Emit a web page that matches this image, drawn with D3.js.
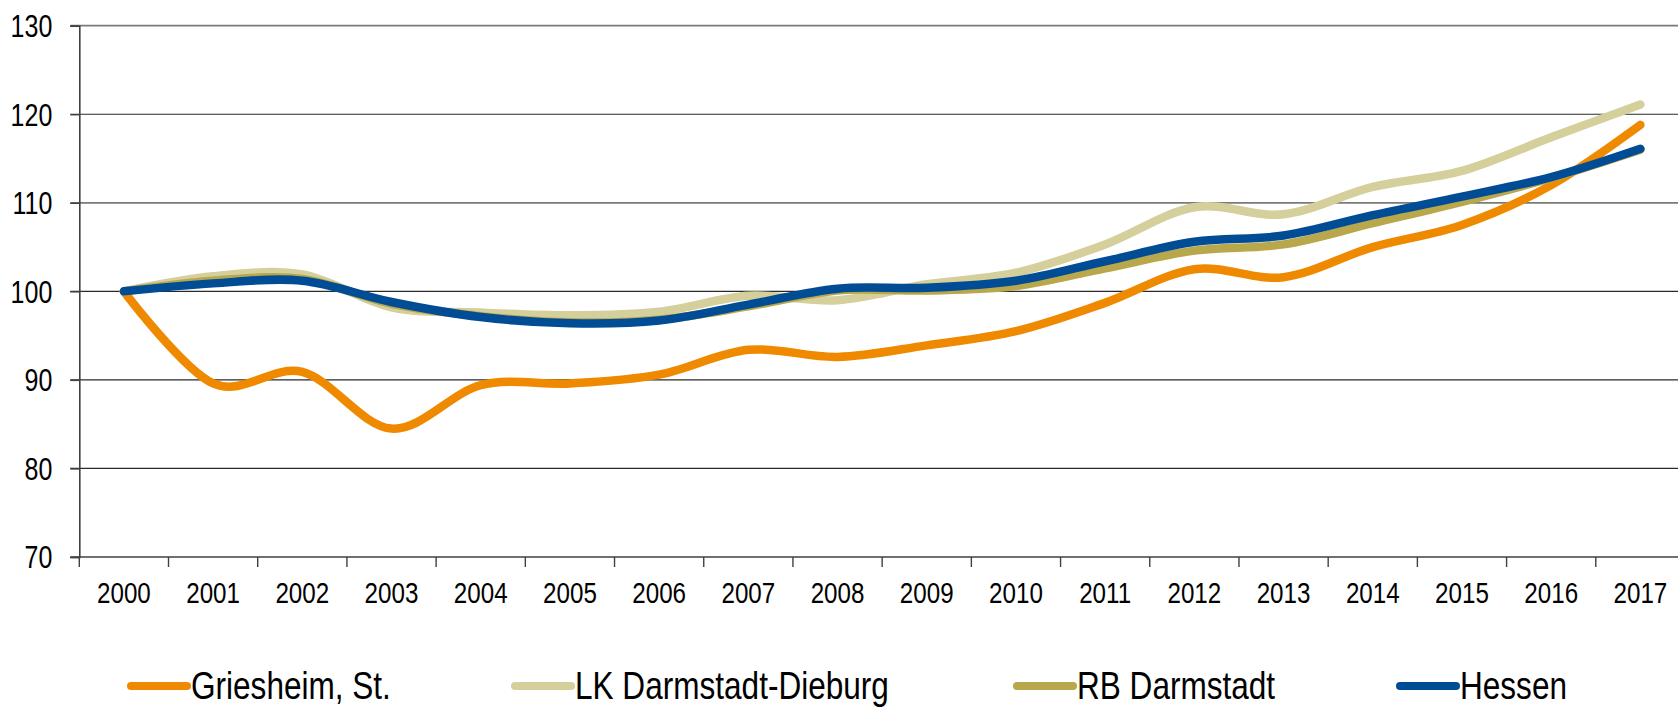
<!DOCTYPE html>
<html>
<head>
<meta charset="utf-8">
<script src="https://cdn.jsdelivr.net/npm/d3@7"></script>
<style>
  html, body { margin: 0; padding: 0; background: #fff; }
  svg { display: block; }
  text { font-family: "Liberation Sans Narrow", "Arial Narrow", "Liberation Sans", Arial, sans-serif; fill: #000; }
</style>
</head>
<body>
<svg id="chart" width="1678" height="710"></svg>
<script>
const years = ["2000","2001","2002","2003","2004","2005","2006","2007","2008","2009","2010","2011","2012","2013","2014","2015","2016","2017"];
const yTicks = [70, 80, 90, 100, 110, 120, 130];

const griesheim = [100, 89.6, 90.9, 84.5, 89.4, 89.6, 90.6, 93.4, 92.6, 93.9, 95.5, 98.7, 102.5, 101.6, 105.0, 107.5, 112.0, 118.8];
const lkDarmstadt = [100, 101.7, 101.9, 98.2, 97.6, 97.3, 97.7, 99.5, 99.0, 100.8, 102.1, 105.3, 109.5, 108.7, 111.8, 113.6, 117.4, 121.1];
const rbDarmstadt = [100, 101.2, 101.4, 98.6, 97.2, 96.5, 96.8, 98.3, 100.1, 100.1, 100.6, 102.6, 104.6, 105.3, 107.7, 110.1, 112.8, 116.0];
const hessen = [100, 100.9, 101.2, 98.8, 97.1, 96.4, 96.7, 98.5, 100.3, 100.4, 101.2, 103.4, 105.6, 106.3, 108.6, 110.7, 112.9, 116.1];

const seriesNames = ["Griesheim, St.", "LK Darmstadt-Dieburg", "RB Darmstadt", "Hessen"];
const seriesValues = [griesheim, lkDarmstadt, rbDarmstadt, hessen];
const seriesColors = ["#EF8A00", "#D5CF9C", "#B8A74B", "#004D96"];

(function () {
const svg = d3.select("#chart");
const plotLeft = 79.3, plotRight = 1685, plotTop = 25.7, plotBottom = 557;
const narrow = 0.82; // Arial Narrow–like horizontal condensing

const x = d3.scaleBand().domain(years).range([plotLeft, plotRight]).padding(0);
const y = d3.scaleLinear().domain([70, 130]).range([plotBottom, plotTop]);

// gridlines
const grid = svg.append("g");
grid.selectAll("line").data(yTicks.filter(d => d !== 70)).join("line")
  .attr("x1", plotLeft - 9).attr("x2", 1678)
  .attr("y1", d => y(d)).attr("y2", d => y(d))
  .attr("stroke", d => (d === 130 || d === 110) ? "#7a7a7a" : "#2a2a2a")
  .attr("stroke-width", d => (d === 130 || d === 110) ? 1.8 : 1.2);

// y axis
const yAxis = svg.append("g").attr("transform", `translate(${plotLeft},0)`)
  .call(d3.axisLeft(y).tickValues(yTicks).tickSize(9).tickPadding(18).tickFormat(d3.format("d")));
yAxis.select(".domain").attr("stroke", "#404040").attr("stroke-width", 1.6);
yAxis.selectAll(".tick line").attr("stroke", "#404040").attr("stroke-width", 1.4);
yAxis.selectAll("text").attr("font-size", 30.5).attr("font-family", null).attr("dy", "0.36em")
  .attr("x", -27 / narrow).attr("transform", `scale(${narrow},1)`);

// x axis
const xAxis = svg.append("g").attr("transform", `translate(0,${plotBottom})`)
  .call(d3.axisBottom(x).tickSize(0).tickPadding(0));
xAxis.select(".domain").remove();
svg.append("line").attr("x1", plotLeft - 9).attr("x2", 1678).attr("y1", plotBottom).attr("y2", plotBottom)
  .attr("stroke", "#404040").attr("stroke-width", 1.6);
xAxis.selectAll("text").attr("font-size", 29.5).attr("font-family", null).attr("y", 46).attr("dy", 0)
  .attr("transform", `scale(${narrow},1)`);
// tick marks at band boundaries
svg.append("g").selectAll("line").data(years).join("line")
  .attr("x1", d => x(d)).attr("x2", d => x(d))
  .attr("y1", plotBottom).attr("y2", plotBottom + 10)
  .attr("stroke", "#404040").attr("stroke-width", 1.4);

// lines
const line = d3.line()
  .x((d, i) => x(years[i]) + x.bandwidth() / 2)
  .y(d => y(d))
  .curve(d3.curveCatmullRom.alpha(0));

svg.append("g").selectAll("path").data(seriesValues).join("path")
  .attr("d", d => line(d))
  .attr("fill", "none")
  .attr("stroke", (d, i) => seriesColors[i])
  .attr("stroke-width", 8.5)
  .attr("stroke-linecap", "round")
  .attr("stroke-linejoin", "round");

// legend
const legendX = [131, 515, 1017, 1400];
const legend = svg.append("g");
seriesNames.forEach((name, i) => {
  const g = legend.append("g").attr("transform", `translate(${legendX[i]},686)`);
  g.append("line").attr("x1", 0).attr("x2", 56).attr("y1", 0).attr("y2", 0)
    .attr("stroke", seriesColors[i]).attr("stroke-width", 8).attr("stroke-linecap", "round");
  g.append("text").attr("transform", `translate(60,13) scale(${narrow},1)`)
    .attr("font-size", 38.5).text(name);
});
})();
</script>
</body>
</html>
